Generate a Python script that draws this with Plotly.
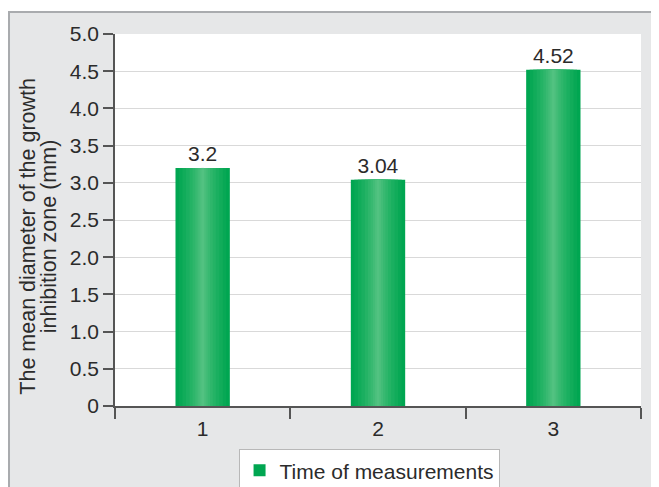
import plotly.graph_objects as go

categories = ["1", "2", "3"]
values = [3.2, 3.04, 4.52]
value_labels = ["3.2", "3.04", "4.52"]
y_tickvals = [0, 0.5, 1.0, 1.5, 2.0, 2.5, 3.0, 3.5, 4.0, 4.5, 5.0]
y_ticktext = ["0", "0.5", "1.0", "1.5", "2.0", "2.5", "3.0", "3.5", "4.0", "4.5", "5.0"]
series_name = "Time of measurements"
y_title_lines = ["The mean diameter of the growth", "inhibition zone (mm)"]

FONT = "Liberation Sans, Arial, sans-serif"
TXT = "#2b2b2b"
AXIS = "#555555"

fig = go.Figure()

# gradient simulation: layered bars, lighter toward the centre
layers = [
    (0.310, "#00a651"),
    (0.270, "#08a855"),
    (0.230, "#11ac5a"),
    (0.190, "#1aaf60"),
    (0.150, "#24b365"),
    (0.115, "#2eb66b"),
    (0.085, "#38b971"),
    (0.058, "#42bc77"),
    (0.035, "#4bbf7c"),
    (0.015, "#52c281"),
]
for i, (w, c) in enumerate(layers):
    fig.add_trace(go.Bar(
        x=categories, y=values, width=w,
        marker=dict(color=c, line=dict(width=0)),
        name=series_name, showlegend=(i == 0),
        text=value_labels if i == 0 else None,
        textposition="outside" if i == 0 else None,
        textfont=dict(size=21, color=TXT, family=FONT),
        cliponaxis=False, hoverinfo="skip" if i else None,
    ))

fig.update_layout(
    width=659, height=487,
    margin=dict(l=107, r=26, t=26, b=89, autoexpand=False),
    barmode="overlay",
    paper_bgcolor="#e6e7e8",
    plot_bgcolor="white",
    font=dict(family=FONT, color=TXT, size=21),
    showlegend=True,
    legend=dict(
        orientation="h", x=0.483, xanchor="center", y=-0.116, yanchor="top",
        bgcolor="white", bordercolor="#b8b8b8", borderwidth=1,
        font=dict(size=21, color=TXT, family=FONT),
    ),
    shapes=[
        dict(type="rect", xref="paper", yref="paper", layer="below",
             x0=-0.3, x1=1.2, y0=1.0591, y1=1.12,
             fillcolor="white", line=dict(width=0)),
        dict(type="line", xref="paper", yref="paper", layer="below",
             x0=-0.3, x1=1.2, y0=1.0591, y1=1.0591,
             line=dict(color="#a9abae", width=2)),
        dict(type="line", xref="paper", yref="paper", layer="below",
             x0=-0.2015, x1=-0.2015, y0=-0.3, y1=1.0591,
             line=dict(color="#a9abae", width=2)),
    ],
    annotations=[
        dict(text=y_title_lines[0], xref="paper", yref="paper",
             x=-0.166, y=0.457, xanchor="center", yanchor="middle",
             textangle=-90, showarrow=False,
             font=dict(size=21.5, color=TXT, family=FONT)),
        dict(text=y_title_lines[1], xref="paper", yref="paper",
             x=-0.125, y=0.457, xanchor="center", yanchor="middle",
             textangle=-90, showarrow=False,
             font=dict(size=21.5, color=TXT, family=FONT)),
    ],
)

fig.update_xaxes(
    type="category", tickson="boundaries",
    ticks="outside", ticklen=11, tickcolor=AXIS, tickwidth=1.5,
    showline=True, linecolor=AXIS, linewidth=1.5,
    showgrid=False, ticklabelstandoff=3,
    tickfont=dict(size=21, color=TXT, family=FONT),
)
fig.update_yaxes(
    range=[0, 5.0], tickvals=y_tickvals, ticktext=y_ticktext,
    ticks="outside", ticklen=10, tickcolor=AXIS, tickwidth=1.5,
    showline=True, linecolor=AXIS, linewidth=1.5,
    showgrid=True, gridcolor="#d9d9d9", gridwidth=1.2,
    zeroline=False,
    tickfont=dict(size=21, color=TXT, family=FONT),
)

fig.write_html("out.html")
